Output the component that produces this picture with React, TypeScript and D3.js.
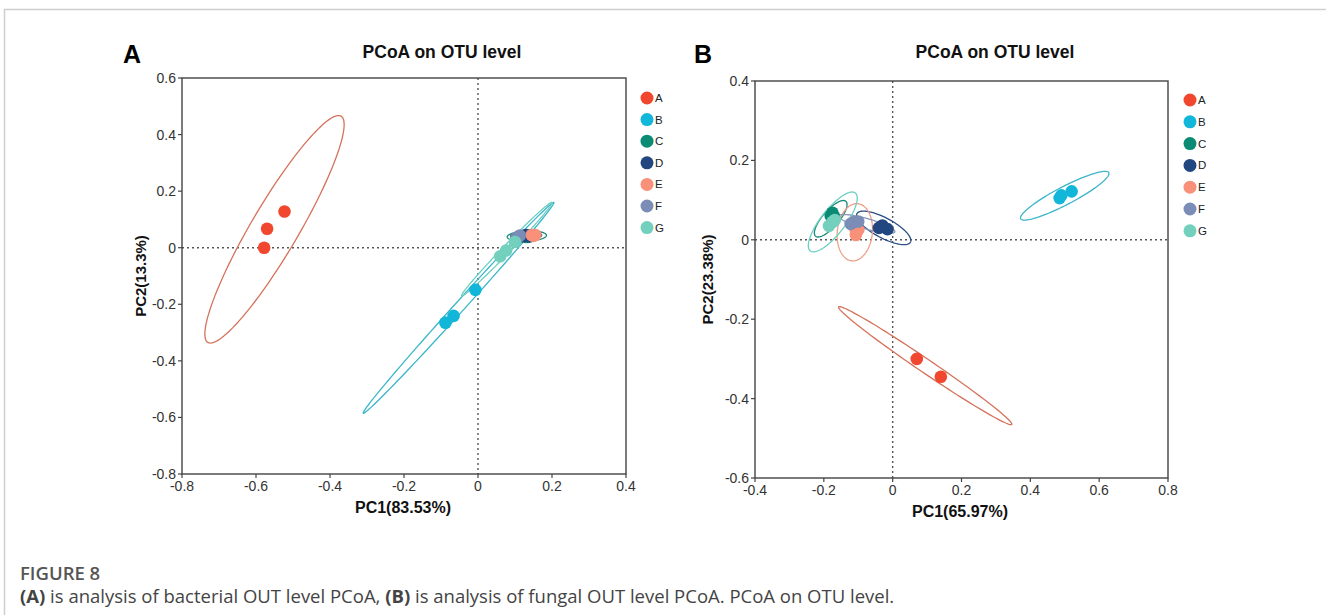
import React from "react";
import * as d3 from "d3";

// ---------- data ----------
const groups = ["A", "B", "C", "D", "E", "F", "G"];
const groupColors = ["#f2472f", "#12b6d9", "#0b8a74", "#22467f", "#f8907a", "#7b8db6", "#72d0bd"];
const ellipseColors = ["#d4735c", "#3cb6c9", "#1a8a78", "#2c4f85", "#eda088", "#8896b8", "#6ccfc0"];

// Panel A (bacterial)
const xTicksA = [-0.8, -0.6, -0.4, -0.2, 0, 0.2, 0.4];
const yTicksA = [-0.8, -0.6, -0.4, -0.2, 0, 0.2, 0.4, 0.6];
const pointsA_A = [[-0.57, 0.067], [-0.523, 0.128], [-0.578, 0.0]];
const pointsA_B = [[-0.088, -0.265], [-0.066, -0.241], [-0.007, -0.149]];
const pointsA_C = [[0.125, 0.043], [0.132, 0.038], [0.138, 0.044]];
const pointsA_D = [[0.12, 0.04], [0.13, 0.045], [0.14, 0.04]];
const pointsA_E = [[0.145, 0.045], [0.15, 0.042], [0.155, 0.045]];
const pointsA_F = [[0.108, 0.038], [0.113, 0.043], [0.104, 0.034]];
const pointsA_G = [[0.06, -0.03], [0.076, -0.01], [0.1, 0.02]];
// ellipses: [centerX, centerY, tipX, tipY, minor/major ratio]
const ellipsesA = [
  [-0.55, 0.065, -0.37, 0.465, 0.18],
  [-0.0525, -0.2125, 0.205, 0.16, 0.035],
  [0.132, 0.041, 0.185, 0.044, 0.26],
  [0.13, 0.042, 0.172, 0.044, 0.25],
  [0.15, 0.043, 0.168, 0.043, 0.6],
  [0.11, 0.039, 0.13, 0.042, 0.4],
  [0.078, -0.005, 0.2, 0.16, 0.06],
];

// Panel B (fungal)
const xTicksB = [-0.4, -0.2, 0, 0.2, 0.4, 0.6, 0.8];
const yTicksB = [-0.6, -0.4, -0.2, 0, 0.2, 0.4];
const pointsB_A = [[0.07, -0.3], [0.14, -0.345]];
const pointsB_B = [[0.485, 0.105], [0.49, 0.112], [0.52, 0.122]];
const pointsB_C = [[-0.175, 0.068], [-0.17, 0.058], [-0.18, 0.06]];
const pointsB_D = [[-0.03, 0.036], [-0.015, 0.027], [-0.04, 0.03]];
const pointsB_E = [[-0.107, 0.012], [-0.11, 0.03], [-0.1, 0.025]];
const pointsB_F = [[-0.113, 0.045], [-0.1, 0.046], [-0.122, 0.04]];
const pointsB_G = [[-0.185, 0.035], [-0.175, 0.045], [-0.168, 0.05]];
const ellipsesB = [
  [0.0945, -0.317, 0.346, -0.465, 0.065],
  [0.5, 0.111, 0.628, 0.169, 0.18],
  [-0.18, 0.053, -0.136, 0.097, 0.35],
  [-0.026, 0.03, 0.0516, -0.006, 0.33],
  [-0.11, 0.019, -0.101, 0.091, 0.61],
  [-0.075, 0.04, 0.0064, 0.02, 0.18],
  [-0.174, 0.045, -0.1086, 0.118, 0.33],
];

const FONT = "'Liberation Sans', Arial, sans-serif";
const fmt = (v: number) => (Math.abs(v) < 1e-9 ? "0" : v.toFixed(1));

type PanelProps = {
  letter: string;
  letterX: number;
  titleX: number;
  left: number; right: number; top: number; bottom: number;
  xDomain: [number, number]; yDomain: [number, number];
  xTicks: number[]; yTicks: number[];
  points: number[][][];
  ellipses: number[][];
  xLabel: string; yLabel: string;
  xLabelX: number;
  yLabelX: number;
  legendX: number; legendY: number; legendStep: number;
};

function Panel(p: PanelProps) {
  const x = d3.scaleLinear().domain(p.xDomain).range([p.left, p.right]);
  const y = d3.scaleLinear().domain(p.yDomain).range([p.bottom, p.top]);
  const ellipsePath = (e: number[]) => {
    const [cx, cy, tx, ty, r] = e;
    const pcx = x(cx), pcy = y(cy);
    const mx = x(tx) - pcx, my = y(ty) - pcy;
    const nx = -my * r, ny = mx * r;
    const pts: [number, number][] = d3.range(0, 121).map((i) => {
      const t = (i / 120) * Math.PI * 2;
      return [pcx + Math.cos(t) * mx + Math.sin(t) * nx, pcy + Math.cos(t) * my + Math.sin(t) * ny];
    });
    return d3.line()(pts) + "Z";
  };
  return (
    <g>
      <text x={p.letterX} y={63} fontFamily={FONT} fontWeight="bold" fontSize={25} fill="#000">{p.letter}</text>
      <text x={p.titleX} y={58} textAnchor="middle" fontFamily={FONT} fontWeight="bold" fontSize={17.5} fill="#111">PCoA on OTU level</text>
      {/* zero lines */}
      <line x1={p.left} x2={p.right} y1={y(0)} y2={y(0)} stroke="#555" strokeWidth={1.4} strokeDasharray="2,3" />
      <line x1={x(0)} x2={x(0)} y1={p.top} y2={p.bottom} stroke="#555" strokeWidth={1.4} strokeDasharray="2,3" />
      {/* ellipses */}
      {p.ellipses.map((e, i) => (
        <path key={"e" + i} d={ellipsePath(e)} fill="none" stroke={ellipseColors[i]} strokeWidth={1.3} />
      ))}
      {/* points */}
      {p.points.map((arr, gi) =>
        arr.map((d, j) => (
          <circle key={gi + "-" + j} cx={x(d[0])} cy={y(d[1])} r={6.3} fill={groupColors[gi]} />
        ))
      )}
      {/* box */}
      <rect x={p.left} y={p.top} width={p.right - p.left} height={p.bottom - p.top} fill="none" stroke="#444" strokeWidth={1.4} />
      {/* x ticks */}
      {p.xTicks.map((t) => (
        <g key={"xt" + t}>
          <line x1={x(t)} x2={x(t)} y1={p.bottom} y2={p.bottom + 4} stroke="#444" strokeWidth={1.2} />
          <text x={x(t)} y={p.bottom + 17} textAnchor="middle" fontFamily={FONT} fontSize={14} fill="#333">{fmt(t)}</text>
        </g>
      ))}
      {p.yTicks.map((t) => (
        <g key={"yt" + t}>
          <line x1={p.left - 4} x2={p.left} y1={y(t)} y2={y(t)} stroke="#444" strokeWidth={1.2} />
          <text x={p.left - 6} y={y(t) + 5} textAnchor="end" fontFamily={FONT} fontSize={14} fill="#333">{fmt(t)}</text>
        </g>
      ))}
      <text x={p.xLabelX} y={p.bottom + 39} textAnchor="middle" fontFamily={FONT} fontWeight="bold" fontSize={16} fill="#111">{p.xLabel}</text>
      <text transform={`translate(${p.yLabelX},${(p.top + p.bottom) / 2}) rotate(-90)`} textAnchor="middle" fontFamily={FONT} fontWeight="bold" fontSize={15} fill="#111">{p.yLabel}</text>
      {/* legend */}
      {groups.map((g, i) => (
        <g key={"lg" + g}>
          <circle cx={p.legendX} cy={p.legendY + i * p.legendStep} r={6.5} fill={groupColors[i]} />
          <text x={p.legendX + 8} y={p.legendY + i * p.legendStep + 4} fontFamily={FONT} fontSize={11.5} fill="#222">{g}</text>
        </g>
      ))}
    </g>
  );
}

export default function App() {
  return (
    <svg width={1326} height={615} style={{ position: "absolute", left: 0, top: 0, background: "#fff" }}>
      <rect x={0} y={0} width={1326} height={615} fill="#fff" />
      <line x1={4} x2={1326} y1={9.5} y2={9.5} stroke="#cfcfcf" strokeWidth={1.5} />
      <line x1={4.5} x2={4.5} y1={9} y2={615} stroke="#cfcfcf" strokeWidth={1.5} />
      <Panel
        letter="A" letterX={123} titleX={442}
        left={182} right={626} top={78} bottom={474}
        xDomain={[-0.8, 0.4]} yDomain={[-0.8, 0.6]}
        xTicks={xTicksA} yTicks={yTicksA}
        points={[pointsA_A, pointsA_B, pointsA_C, pointsA_D, pointsA_E, pointsA_F, pointsA_G]}
        ellipses={ellipsesA}
        xLabel="PC1(83.53%)" yLabel="PC2(13.3%)" xLabelX={403} yLabelX={146}
        legendX={647} legendY={98} legendStep={21.6}
      />
      <Panel
        letter="B" letterX={694} titleX={995}
        left={755} right={1168} top={81} bottom={478}
        xDomain={[-0.4, 0.8]} yDomain={[-0.6, 0.4]}
        xTicks={xTicksB} yTicks={yTicksB}
        points={[pointsB_A, pointsB_B, pointsB_C, pointsB_D, pointsB_E, pointsB_F, pointsB_G]}
        ellipses={ellipsesB}
        xLabel="PC1(65.97%)" yLabel="PC2(23.38%)" xLabelX={960} yLabelX={713}
        legendX={1190} legendY={100} legendStep={21.8}
      />
      <text x={20} y={580} fontFamily="'Open Sans', sans-serif" fontSize={18.5} fontWeight={600} fill="#555">FIGURE 8</text>
      <text x={20} y={603} fontFamily="'Open Sans', sans-serif" fontSize={18.5} fill="#444">
        <tspan fontWeight="bold">(A)</tspan> is analysis of bacterial OUT level PCoA, <tspan fontWeight="bold">(B)</tspan> is analysis of fungal OUT level PCoA. PCoA on OTU level.
      </text>
    </svg>
  );
}
